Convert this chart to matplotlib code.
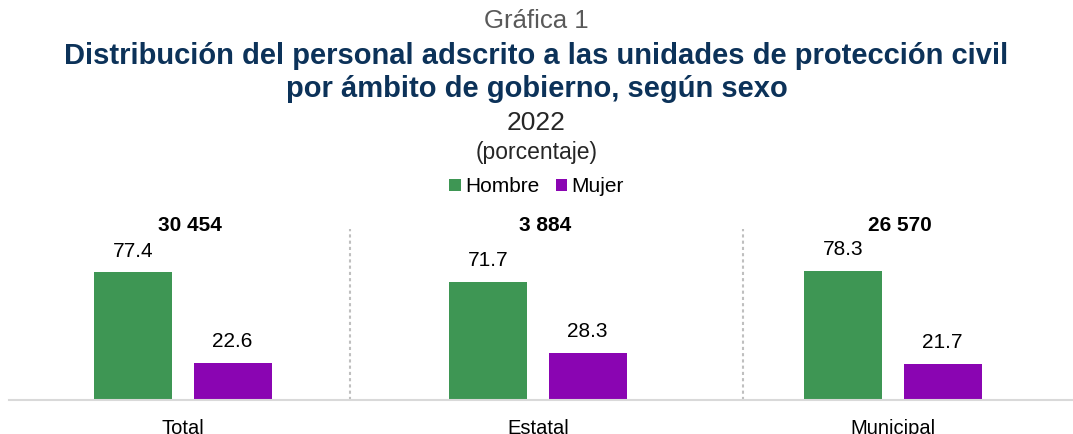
import matplotlib
matplotlib.use("Agg")
import matplotlib.pyplot as plt
import numpy as np

plt.rcParams["font.family"] = ["Liberation Sans", "DejaVu Sans"]

categorias = ["Total", "Estatal", "Municipal"]
hombre = [77.4, 71.7, 78.3]
mujer = [22.6, 28.3, 21.7]
totales = ["30 454", "3 884", "26 570"]

verde = "#3E9654"
morado = "#8A05B2"
azul = "#0C3259"

fig = plt.figure(figsize=(10.73, 4.34), dpi=100)
ax = fig.add_axes([9 / 1073, 34 / 434, 1064 / 1073, 173 / 434])

x = np.arange(len(categorias))
ancho = 0.22
b1 = ax.bar(x - 0.14, hombre, ancho, color=verde, label="Hombre")
b2 = ax.bar(x + 0.14, mujer, ancho, color=morado, label="Mujer")

for barras in (b1, b2):
    for b in barras:
        ax.text(b.get_x() + b.get_width() / 2, b.get_height() + 13,
                f"{b.get_height():.1f}", ha="center", va="center", fontsize=15)

for xi, t in zip(x, totales):
    ax.text(xi + 0.02, 106, t, ha="center", va="center", fontsize=15,
            fontweight="bold", clip_on=False)

# separadores punteados entre ámbitos
for xs in (0.47, 1.577):
    ax.plot([xs, xs], [0, 104], color="#BFBFBF", lw=1.5, ls=(0, (1.5, 1.5)),
            clip_on=False)

ax.set_xlim(-0.49, 2.507)
ax.set_ylim(0, 105)
ax.set_xticks(x)
ax.set_xticklabels(categorias, fontsize=14.5)
ax.tick_params(axis="x", length=0, pad=14)
ax.set_yticks([])
for s in ("top", "left", "right"):
    ax.spines[s].set_visible(False)
ax.spines["bottom"].set_color("#D9D9D9")
ax.spines["bottom"].set_linewidth(1.5)

fig.text(0.5, 1 - 21 / 434, "Gráfica 1", ha="center", va="center",
         fontsize=18.5, color="#595959")
fig.text(0.5, 1 - 56 / 434, "Distribución del personal adscrito a las unidades de protección civil",
         ha="center", va="center", fontsize=21, fontweight="bold", color=azul)
fig.text(0.5, 1 - 89 / 434, "por ámbito de gobierno, según sexo",
         ha="center", va="center", fontsize=21, fontweight="bold", color=azul)
fig.text(0.5, 1 - 123 / 434, "2022", ha="center", va="center", fontsize=19,
         color="#262626")
fig.text(0.5, 1 - 153 / 434, "(porcentaje)", ha="center", va="center",
         fontsize=16.5, color="#262626")

fig.legend(handles=[b1, b2], loc="center", bbox_to_anchor=(0.5, 1 - 187 / 434),
           ncol=2, frameon=False, fontsize=15, handlelength=0.55, handleheight=0.55,
           handletextpad=0.2, columnspacing=0.8)

fig.savefig("out.png", dpi=100)
